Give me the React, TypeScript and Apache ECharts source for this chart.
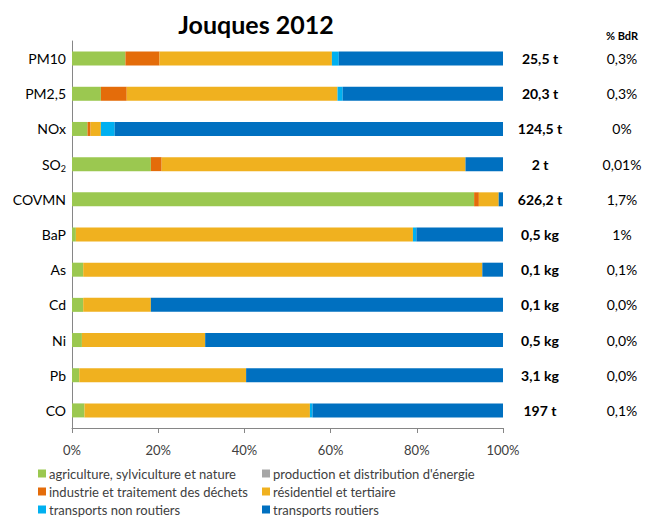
import React, { useEffect, useRef } from "react";
import * as echarts from "echarts";

const categories = ["PM10", "PM2,5", "NOx", "SO2", "COVMN", "BaP", "As", "Cd", "Ni", "Pb", "CO"];
const agriculture = [12.4, 6.7, 3.6, 18.3, 93.3, 0.9, 2.6, 2.6, 2.3, 1.7, 2.9];
const production = [0, 0, 0, 0, 0, 0, 0, 0, 0, 0, 0];
const industrie = [7.9, 6.0, 0.7, 2.5, 1.1, 0, 0, 0, 0, 0, 0];
const residentiel = [40.0, 48.9, 2.4, 70.5, 4.6, 78.2, 92.6, 15.7, 28.6, 38.7, 52.3];
const transportsNonRoutiers = [1.6, 1.2, 3.2, 0, 0, 0.8, 0, 0, 0, 0, 0.6];
const transportsRoutiers = [38.1, 37.2, 90.1, 8.7, 1.0, 20.1, 4.8, 81.7, 69.1, 59.6, 44.2];
const amounts = ["25,5 t", "20,3 t", "124,5 t", "2 t", "626,2 t", "0,5 kg", "0,1 kg", "0,1 kg", "0,5 kg", "3,1 kg", "197 t"];
const bdr = ["0,3%", "0,3%", "0%", "0,01%", "1,7%", "1%", "0,1%", "0,0%", "0,0%", "0,0%", "0,1%"];
const xTicks = [0, 20, 40, 60, 80, 100];

const seriesDefs = [
  { name: "agriculture, sylviculture et nature", data: agriculture, color: "#9BC850" },
  { name: "production et distribution d'énergie", data: production, color: "#A6A6A6" },
  { name: "industrie et traitement des déchets", data: industrie, color: "#E46C0A" },
  { name: "résidentiel et tertiaire", data: residentiel, color: "#F0B11F" },
  { name: "transports non routiers", data: transportsNonRoutiers, color: "#00B0F0" },
  { name: "transports routiers", data: transportsRoutiers, color: "#0070C0" },
];

const FONT = "Lato";

const legendCommon = {
  orient: "vertical",
  top: 467,
  height: 60,
  padding: 0,
  itemWidth: 8,
  itemHeight: 8,
  itemGap: 5,
  icon: "rect",
  textStyle: { fontFamily: FONT, fontSize: 13, lineHeight: 13, color: "#404040", padding: [0, 0, 0, -2] },
};

export default function App() {
  const ref = useRef<HTMLDivElement>(null);
  useEffect(() => {
    if (!ref.current) return;
    const chart = echarts.init(ref.current, null, { renderer: "svg" });
    chart.setOption({
      animation: false,
      textStyle: { fontFamily: FONT },
      title: {
        text: "Jouques 2012",
        left: 251,
        textAlign: "center",
        top: 6,
        textStyle: { fontFamily: FONT, fontSize: 25, fontWeight: "bold", color: "#000" },
      },
      graphic: [
        {
          type: "text",
          x: 622,
          y: 30,
          style: {
            text: "% BdR",
            fontFamily: FONT,
            fontSize: 11,
            fontWeight: "bold",
            fill: "#000",
            textAlign: "center",
          },
        },
      ],
      legend: [
        {
          ...legendCommon,
          left: 38,
          data: [seriesDefs[0].name, seriesDefs[2].name, seriesDefs[4].name],
        },
        {
          ...legendCommon,
          left: 262,
          data: [seriesDefs[1].name, seriesDefs[3].name, seriesDefs[5].name],
        },
      ],
      grid: { left: 72, top: 41, width: 431, height: 387, outerBoundsMode: "none", containLabel: false },
      xAxis: {
        type: "value",
        min: 0,
        max: 100,
        interval: 20,
        axisLine: { show: true, lineStyle: { color: "#868686" } },
        axisTick: { show: true, length: 5, lineStyle: { color: "#868686" } },
        splitLine: { show: false },
        axisLabel: {
          formatter: (v: number) => (xTicks.includes(v) ? v + "%" : ""),
          fontFamily: FONT,
          fontSize: 13,
          color: "#404040",
          margin: 15,
        },
      },
      yAxis: [
        {
          type: "category",
          data: categories,
          inverse: true,
          axisLine: { show: true, lineStyle: { color: "#868686" } },
          axisTick: { show: false },
          axisLabel: {
            margin: 6,
            fontFamily: FONT,
            fontSize: 14,
            color: "#000",
            formatter: (v: string) => (v === "SO2" ? "SO{sub|2}" : v),
            rich: {
              sub: { fontFamily: FONT, fontSize: 9, color: "#000", verticalAlign: "bottom", padding: [8, 0, 0, 0] },
            },
          },
        },
        {
          type: "category",
          data: categories,
          inverse: true,
          position: "right",
          axisLine: { show: false },
          axisTick: { show: false },
          axisLabel: {
            margin: 6,
            formatter: (_v: string, i: number) => `{a|${amounts[i]}}{b|${bdr[i]}}`,
            rich: {
              a: { fontFamily: FONT, fontSize: 14, fontWeight: "bold", color: "#000", width: 62, align: "right" },
              b: { fontFamily: FONT, fontSize: 14, color: "#000", width: 102, align: "center" },
            },
          },
        },
      ],
      series: seriesDefs.map((s) => ({
        name: s.name,
        type: "bar",
        stack: "total",
        barWidth: 14,
        yAxisIndex: 0,
        data: s.data,
        itemStyle: { color: s.color },
      })),
    });
    return () => chart.dispose();
  }, []);
  return <div ref={ref} style={{ position: "absolute", left: 0, top: 0, width: 646, height: 517 }} />;
}
